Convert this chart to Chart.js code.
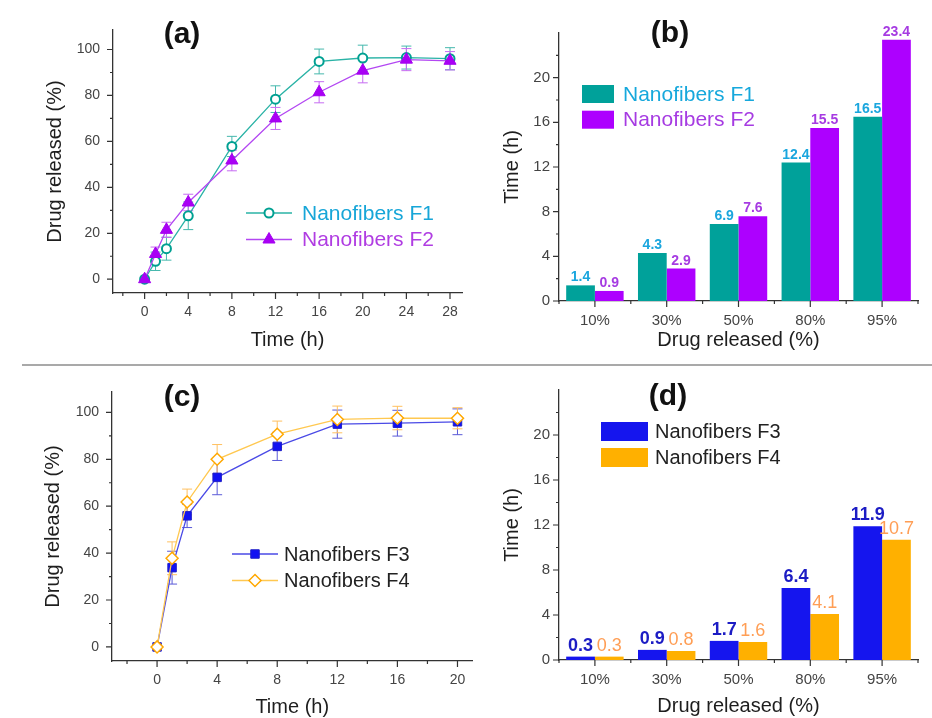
<!DOCTYPE html>
<html>
<head>
<meta charset="utf-8">
<title>Drug release of nanofibers</title>
<script src="https://cdn.jsdelivr.net/npm/chart.js@4.4.0/dist/chart.umd.min.js"></script>
<style>
  body { margin: 0; background: #fff; }
  #fig { position: relative; width: 932px; height: 718px; overflow: hidden;
         font-family: 'Liberation Sans', Arial, sans-serif; }
  #fig canvas { position: absolute; }
  .tag { position: absolute; font-weight: bold; font-size: 30px; line-height: 1;
         color: #111; transform: translate(-50%, -50%); white-space: nowrap; }
  .rule { position: absolute; left: 22px; right: 0; top: 364px; height: 2px; background: #a9a9a9; }
</style>
</head>
<body>
<div id="fig">
  <canvas id="chartA" width="470" height="360" style="left:0;top:0"></canvas>
  <canvas id="chartB" width="462" height="360" style="left:470px;top:0"></canvas>
  <div class="rule"></div>
  <canvas id="chartC" width="480" height="360" style="left:0;top:360px"></canvas>
  <canvas id="chartD" width="462" height="360" style="left:470px;top:360px"></canvas>
  <div class="tag" style="left:182px;top:33px">(a)</div>
  <div class="tag" style="left:670px;top:32px">(b)</div>
  <div class="tag" style="left:182px;top:396px">(c)</div>
  <div class="tag" style="left:668px;top:395px">(d)</div>
</div>
<script>
// release profiles, F1/F2
const timeAB = [0, 1, 2, 4, 8, 12, 16, 20, 24, 28];
const releaseF1 = [0, 7.8, 13.3, 27.6, 57.8, 78.4, 94.8, 96.3, 96.5, 96.0];
const errorF1 = [0, 4, 5, 6, 4.4, 5.8, 5.4, 5.6, 5, 4.8];
const releaseF2 = [0, 11.0, 21.5, 33.4, 51.7, 70.0, 81.4, 90.8, 95.6, 95.1];
const errorF2 = [0, 3, 3.3, 3.6, 4.5, 4.8, 4.6, 5.3, 4.8, 4];

// release profiles, F3/F4
const timeCD = [0, 1, 2, 4, 8, 12, 16, 20];
const releaseF3 = [0, 33.8, 55.9, 72.3, 85.5, 95.0, 95.4, 96.0];
const errorF3 = [0, 7, 5, 7.4, 6, 6, 5.5, 5.5];
const releaseF4 = [0, 37.8, 61.8, 80.0, 90.7, 97.0, 97.6, 97.5];
const errorF4 = [0, 7, 5.5, 6.3, 5.6, 5.7, 5, 4.5];

// time needed to reach each release level (h)
const releaseLevels = ['10%', '30%', '50%', '80%', '95%'];
const hoursF1 = [1.4, 4.3, 6.9, 12.4, 16.5];
const hoursF2 = [0.9, 2.9, 7.6, 15.5, 23.4];
const hoursF3 = [0.3, 0.9, 1.7, 6.4, 11.9];
const hoursF4 = [0.3, 0.8, 1.6, 4.1, 10.7];

// axis ticks: labelled values and every tick drawn
const percentLabels = [0, 20, 40, 60, 80, 100];
const percentTicks = [0, 10, 20, 30, 40, 50, 60, 70, 80, 90, 100];
const timeLabelsA = [0, 4, 8, 12, 16, 20, 24, 28];
const timeTicksA = [-2, 0, 2, 4, 6, 8, 10, 12, 14, 16, 18, 20, 22, 24, 26, 28];
const timeLabelsC = [0, 4, 8, 12, 16, 20];
const timeTicksC = [-2, 0, 2, 4, 6, 8, 10, 12, 14, 16, 18, 20];
const hourLabels = [0, 4, 8, 12, 16, 20];
const hourTicks = [0, 2, 4, 6, 8, 10, 12, 14, 16, 18, 20, 22];

const FONT = "'Liberation Sans', Arial, sans-serif";
Chart.defaults.font.family = FONT;
const AXIS = '#333';

// outward tick marks, long where a value is printed
const tickMarks = {
  id: 'tickMarks',
  afterDraw(chart) {
    const { ctx, chartArea } = chart;
    const xs = chart.scales.x, ys = chart.scales.y;
    ctx.save();
    ctx.strokeStyle = AXIS;
    ctx.lineWidth = 1.2;
    ctx.beginPath();
    ys.ticks.forEach(t => {
      const y = ys.getPixelForValue(t.value);
      ctx.moveTo(chartArea.left, y);
      ctx.lineTo(chartArea.left - (t.label === '' ? 3 : 6), y);
    });
    if (xs.type === 'category') {
      const n = xs.ticks.length;
      for (let i = 0; i < n; i++) {
        const x = xs.getPixelForTick(i);
        ctx.moveTo(x, chartArea.bottom);
        ctx.lineTo(x, chartArea.bottom + 6);
      }
      for (let i = 0; i <= n; i++) {
        const x = xs.left + i * (xs.right - xs.left) / n;
        ctx.moveTo(x, chartArea.bottom);
        ctx.lineTo(x, chartArea.bottom + 3);
      }
    } else {
      xs.ticks.forEach(t => {
        const x = xs.getPixelForValue(t.value);
        ctx.moveTo(x, chartArea.bottom);
        ctx.lineTo(x, chartArea.bottom + (t.label === '' ? 3 : 6));
      });
    }
    ctx.stroke();
    ctx.restore();
  }
};

// symmetric error bars with caps
const errorBars = {
  id: 'errorBars',
  beforeDatasetsDraw(chart) {
    const { ctx } = chart;
    const ys = chart.scales.y;
    chart.data.datasets.forEach((ds, di) => {
      if (!ds.errors) return;
      const meta = chart.getDatasetMeta(di);
      ctx.save();
      ctx.strokeStyle = ds.errorColor;
      ctx.lineWidth = 1;
      ctx.beginPath();
      meta.data.forEach((pt, i) => {
        const e = ds.errors[i];
        if (!e) return;
        const v = ds.data[i].y;
        const top = ys.getPixelForValue(v + e);
        const bot = ys.getPixelForValue(v - e);
        ctx.moveTo(pt.x, top); ctx.lineTo(pt.x, bot);
        ctx.moveTo(pt.x - 5, top); ctx.lineTo(pt.x + 5, top);
        ctx.moveTo(pt.x - 5, bot); ctx.lineTo(pt.x + 5, bot);
      });
      ctx.stroke();
      ctx.restore();
    });
  }
};

// value printed above each bar
const valueLabels = {
  id: 'valueLabels',
  afterDatasetsDraw(chart) {
    const { ctx } = chart;
    chart.data.datasets.forEach((ds, di) => {
      if (!ds.labelColor) return;
      const meta = chart.getDatasetMeta(di);
      ctx.save();
      ctx.fillStyle = ds.labelColor;
      ctx.font = ds.labelFont;
      ctx.textAlign = 'center';
      ctx.textBaseline = 'alphabetic';
      meta.data.forEach((bar, i) => {
        ctx.fillText(ds.data[i].toFixed(1), bar.x, bar.y - ds.labelGap);
      });
      ctx.restore();
    });
  }
};

// legend placed inside the plot
const panelLegend = {
  id: 'panelLegend',
  afterDraw(chart, args, opts) {
    if (!opts.rowHeight) return;
    const { ctx } = chart;
    ctx.save();
    ctx.textBaseline = 'middle';
    ctx.textAlign = 'left';
    ctx.font = opts.font;
    chart.data.datasets.forEach((ds, i) => {
      const y = opts.top + i * opts.rowHeight;
      if (opts.kind === 'box') {
        ctx.fillStyle = ds.backgroundColor;
        ctx.fillRect(opts.left, y - opts.boxHeight / 2, opts.sampleWidth, opts.boxHeight);
      } else {
        ctx.strokeStyle = ds.borderColor;
        ctx.lineWidth = ds.borderWidth;
        ctx.beginPath();
        ctx.moveTo(opts.left, y);
        ctx.lineTo(opts.left + opts.sampleWidth, y);
        ctx.stroke();
        ctx.fillStyle = ds.pointBackgroundColor;
        ctx.strokeStyle = ds.pointBorderColor;
        ctx.lineWidth = ds.pointBorderWidth;
        Chart.helpers.drawPoint(ctx, {
          pointStyle: ds.pointStyle, radius: ds.pointRadius,
          borderWidth: ds.pointBorderWidth, rotation: 0
        }, opts.left + opts.sampleWidth / 2, y);
      }
      ctx.fillStyle = ds.legendColor || opts.color;
      ctx.font = opts.font;
      ctx.fillText(ds.label, opts.textLeft, y + 1);
    });
    ctx.restore();
  }
};

function points(xs, ys) {
  return xs.map((x, i) => ({ x, y: ys[i] }));
}

// fixes the plot rectangle inside a canvas of size w x h
function frame(box, w, h) {
  return {
    padding: { left: 0, top: box.top, right: w - box.right, bottom: 0 },
    yFit: s => { s.width = box.left; },
    xFit: s => { s.height = h - box.bottom; }
  };
}

function axisTitle(text, pad) {
  return { display: true, text, color: '#1e1e1e', font: { size: 20, lineHeight: 1.2 }, padding: pad };
}

function profileChart(id, cfg) {
  const canvas = document.getElementById(id);
  const f = frame(cfg.box, canvas.width, canvas.height);
  return new Chart(canvas, {
    type: 'line',
    data: { datasets: cfg.datasets },
    plugins: [tickMarks, errorBars, panelLegend],
    options: {
      responsive: false,
      devicePixelRatio: 1,
      animation: false,
      layout: { padding: f.padding },
      elements: { line: { tension: 0 } },
      scales: {
        x: {
          type: 'linear', min: cfg.xMin, max: cfg.xMax,
          afterFit: f.xFit,
          afterBuildTicks: s => { s.ticks = cfg.xTicks.map(value => ({ value })); },
          grid: { display: false, drawTicks: false },
          border: { display: true, color: AXIS, width: 1.3 },
          ticks: {
            padding: 11, color: '#444', font: { size: 14 }, maxRotation: 0, autoSkip: false,
            callback: v => cfg.xLabels.includes(v) ? String(v) : ''
          },
          title: axisTitle('Time (h)', { bottom: cfg.xTitlePad })
        },
        y: {
          min: -6, max: cfg.yMax,
          afterFit: f.yFit,
          afterBuildTicks: s => { s.ticks = percentTicks.map(value => ({ value })); },
          grid: { display: false, drawTicks: false },
          border: { display: true, color: AXIS, width: 1.3 },
          ticks: {
            padding: 13, color: '#444', font: { size: 14 }, autoSkip: false,
            callback: v => percentLabels.includes(v) ? String(v) : ''
          },
          title: axisTitle('Drug released (%)', { top: cfg.yTitlePad })
        }
      },
      plugins: {
        legend: { display: false },
        tooltip: { enabled: false },
        panelLegend: cfg.legend
      }
    }
  });
}

function timeChart(id, cfg) {
  const canvas = document.getElementById(id);
  const f = frame(cfg.box, canvas.width, canvas.height);
  return new Chart(canvas, {
    type: 'bar',
    data: { labels: releaseLevels, datasets: cfg.datasets },
    plugins: [tickMarks, valueLabels, panelLegend],
    options: {
      responsive: false,
      devicePixelRatio: 1,
      animation: false,
      layout: { padding: f.padding },
      datasets: { bar: { categoryPercentage: 0.8, barPercentage: 1.0, borderWidth: 0 } },
      scales: {
        x: {
          afterFit: f.xFit,
          grid: { display: false, drawTicks: false },
          border: { display: true, color: AXIS, width: 1.3 },
          ticks: { padding: 11, color: '#444', font: { size: 15 }, maxRotation: 0 },
          title: axisTitle('Drug released (%)', { bottom: cfg.xTitlePad })
        },
        y: {
          min: 0, max: 24,
          afterFit: f.yFit,
          afterBuildTicks: s => { s.ticks = hourTicks.map(value => ({ value })); },
          grid: { display: false, drawTicks: false },
          border: { display: true, color: AXIS, width: 1.3 },
          ticks: {
            padding: 9, color: '#444', font: { size: 15 }, autoSkip: false,
            callback: v => hourLabels.includes(v) ? String(v) : ''
          },
          title: axisTitle('Time (h)', { top: cfg.yTitlePad })
        }
      },
      plugins: {
        legend: { display: false },
        tooltip: { enabled: false },
        panelLegend: cfg.legend
      }
    }
  });
}

// (a) F1 / F2 release profiles
profileChart('chartA', {
  box: { left: 113, right: 468, top: 30, bottom: 293 },
  xMin: -2.9, xMax: 29.1, yMax: 108.5,
  xTicks: timeTicksA, xLabels: timeLabelsA,
  xTitlePad: 8, yTitlePad: 43,
  legend: { kind: 'line', left: 246, top: 213, rowHeight: 26.5, sampleWidth: 46,
            textLeft: 302, font: '21px ' + FONT, color: '#222' },
  datasets: [
    {
      label: 'Nanofibers F1', data: points(timeAB, releaseF1), order: 1,
      borderColor: '#2ab3a6', borderWidth: 1.3,
      pointStyle: 'circle', pointRadius: 4.5, pointBorderWidth: 2,
      pointBorderColor: '#00a092', pointBackgroundColor: '#ffffff',
      errors: errorF1, errorColor: '#45b8ad', legendColor: '#17a6d8'
    },
    {
      label: 'Nanofibers F2', data: points(timeAB, releaseF2), order: 0,
      borderColor: '#b347f2', borderWidth: 1.3,
      pointStyle: 'triangle', pointRadius: 7, pointBorderWidth: 1,
      pointBorderColor: '#a400ef', pointBackgroundColor: '#a900f5',
      errors: errorF2, errorColor: '#c66cf2', legendColor: '#b03de2'
    }
  ]
});

// (b) time to reach each release level, F1 / F2
timeChart('chartB', {
  box: { left: 89, right: 448, top: 33, bottom: 301 },
  xTitlePad: 8, yTitlePad: 30,
  legend: { kind: 'box', left: 112, top: 94, rowHeight: 25.7, sampleWidth: 32, boxHeight: 18,
            textLeft: 153, font: '21px ' + FONT, color: '#222' },
  datasets: [
    { label: 'Nanofibers F1', data: hoursF1, backgroundColor: '#00a19a',
      labelColor: '#1aa6de', labelFont: 'bold 14px ' + FONT, labelGap: 4, legendColor: '#16a8dc' },
    { label: 'Nanofibers F2', data: hoursF2, backgroundColor: '#ad00ff',
      labelColor: '#a63be2', labelFont: 'bold 14px ' + FONT, labelGap: 4, legendColor: '#a63be2' }
  ]
});

// (c) F3 / F4 release profiles
profileChart('chartC', {
  box: { left: 112, right: 474, top: 32, bottom: 301 },
  xMin: -3, xMax: 21, yMax: 108.7,
  xTicks: timeTicksC, xLabels: timeLabelsC,
  xTitlePad: 1, yTitlePad: 41,
  legend: { kind: 'line', left: 232, top: 194, rowHeight: 26.5, sampleWidth: 46,
            textLeft: 284, font: '20px ' + FONT, color: '#222' },
  datasets: [
    {
      label: 'Nanofibers F3', data: points(timeCD, releaseF3), order: 1,
      borderColor: '#4a4ae6', borderWidth: 1.3,
      pointStyle: 'rect', pointRadius: 6, pointBorderWidth: 1,
      pointBorderColor: '#2020c8', pointBackgroundColor: '#1212f2',
      errors: errorF3, errorColor: '#5a5ad8'
    },
    {
      label: 'Nanofibers F4', data: points(timeCD, releaseF4), order: 0,
      borderColor: '#ffc850', borderWidth: 1.3,
      pointStyle: 'rectRot', pointRadius: 6, pointBorderWidth: 1.5,
      pointBorderColor: '#ffa800', pointBackgroundColor: '#ffffff',
      errors: errorF4, errorColor: '#ffc060'
    }
  ]
});

// (d) time to reach each release level, F3 / F4
timeChart('chartD', {
  box: { left: 89, right: 448, top: 30, bottom: 300 },
  xTitlePad: 1.5, yTitlePad: 30,
  legend: { kind: 'box', left: 131, top: 71.5, rowHeight: 26, sampleWidth: 47, boxHeight: 19,
            textLeft: 185, font: '20px ' + FONT, color: '#222' },
  datasets: [
    { label: 'Nanofibers F3', data: hoursF3, backgroundColor: '#1515ee',
      labelColor: '#1c1cc4', labelFont: 'bold 18px ' + FONT, labelGap: 6 },
    { label: 'Nanofibers F4', data: hoursF4, backgroundColor: '#ffb000',
      labelColor: '#ff9e55', labelFont: '18px ' + FONT, labelGap: 6 }
  ]
});
</script>
</body>
</html>
